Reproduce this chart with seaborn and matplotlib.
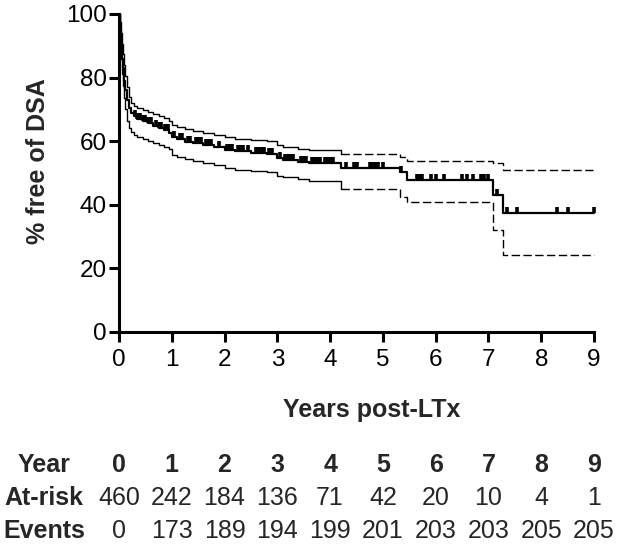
import numpy as np
import pandas as pd
import matplotlib
matplotlib.use("Agg")
import matplotlib.pyplot as plt
import matplotlib.transforms as mtransforms
from matplotlib.path import Path
import seaborn as sns

# ---------------- data ----------------
step_times = [0, 0.02, 0.04, 0.06, 0.08, 0.10, 0.12, 0.15, 0.18, 0.22, 0.28, 0.35,
              0.45, 0.55, 0.65, 0.75, 0.85, 0.95, 1.0, 1.1, 1.25, 1.4, 1.6, 1.8,
              2.0, 2.2, 2.5, 2.8, 3.0, 3.1, 3.4, 3.6, 4.2, 5.33, 5.45, 7.08, 7.27]
survival = [100, 95, 90, 86, 83, 79, 76, 73, 70.5, 68.8, 67.8, 67.0,
            66.3, 65.6, 64.9, 64.3, 63.6, 62.6, 61.4, 60.6, 59.9, 59.3, 58.7, 58.1,
            57.3, 56.8, 56.4, 56.0, 54.8, 54.2, 53.6, 53.3, 51.6, 50.4, 47.8, 43.2, 37.4]
ci_upper = [100, 97.5, 94, 90.5, 87.5, 84, 80.5, 77, 74, 72, 71.2, 70.5,
            69.8, 69.2, 68.6, 68.0, 67.3, 66.5, 65.2, 64.5, 63.9, 63.3, 62.7, 62.1,
            61.3, 60.8, 60.4, 60.0, 58.8, 58.2, 57.6, 57.3, 56.1, 55.1, 53.9, 53.3, 50.8]
ci_lower = [100, 92, 86, 81, 77.5, 73.5, 70, 66.5, 64, 62.8, 62.0, 61.4,
            60.7, 60.0, 59.5, 58.9, 58.2, 57.4, 55.8, 55.1, 54.4, 53.8, 53.2, 52.5,
            51.6, 51.1, 50.7, 50.4, 49.2, 48.6, 48.1, 47.6, 45.1, 42.6, 41.0, 32.2, 24.3]
end_time = 9.0
censor_times = [0.3, 0.35, 0.4, 0.45, 0.5, 0.55, 0.6, 0.7, 0.75, 0.8, 0.88, 0.92,
                1.05, 1.15, 1.2, 1.3, 1.35, 1.45, 1.5, 1.55, 1.65, 1.7, 1.75, 1.9,
                2.05, 2.1, 2.15, 2.25, 2.3, 2.35, 2.45, 2.6, 2.65, 2.7, 2.75, 2.85,
                2.9, 3.05, 3.15, 3.2, 3.25, 3.3, 3.45, 3.5, 3.55, 3.65, 3.7, 3.75,
                3.8, 3.9, 3.95, 4.0, 4.05, 4.3, 4.45, 4.5, 4.75, 4.8, 4.85, 4.9,
                5.0, 5.35, 5.65, 5.7, 5.75, 5.92, 6.0, 6.15, 6.5, 6.6, 6.7,
                6.85, 6.92, 7.0, 7.16, 7.35, 7.55, 8.3, 8.5, 9.0]
dash_start = 4.2

table_years = [0, 1, 2, 3, 4, 5, 6, 7, 8, 9]
at_risk = [460, 242, 184, 136, 71, 42, 20, 10, 4, 1]
events = [0, 173, 189, 194, 199, 201, 203, 203, 205, 205]
row_labels = ["Year", "At-risk", "Events"]
x_ticks = [0, 1, 2, 3, 4, 5, 6, 7, 8, 9]
y_ticks = [0, 20, 40, 60, 80, 100]
x_label = "Years post-LTx"
y_label = "% free of DSA"

# ---------------- style ----------------
sns.set_style("ticks")
plt.rcParams["font.family"] = ["Liberation Sans", "DejaVu Sans"]

W, H = 625, 549
fig = plt.figure(figsize=(W / 100, H / 100), dpi=100)
ax = fig.add_axes([119 / W, 217 / H, 475 / W, 318 / H])

df = pd.DataFrame({
    "t": step_times + [end_time],
    "s": survival + [survival[-1]],
    "hi": ci_upper + [ci_upper[-1]],
    "lo": ci_lower + [ci_lower[-1]],
})
solid = df[df["t"] <= dash_start]
dashed = df[df["t"] >= dash_start]

for col in ["hi", "lo"]:
    sns.lineplot(data=solid, x="t", y=col, drawstyle="steps-post", color="black",
                 lw=1.0, estimator=None, sort=False, ax=ax)
    sns.lineplot(data=dashed, x="t", y=col, drawstyle="steps-post", color="black",
                 lw=1.0, estimator=None, sort=False, ax=ax)
    ax.lines[-1].set_linestyle((0, (6, 2.5)))

sns.lineplot(data=df, x="t", y="s", drawstyle="steps-post", color="black",
             lw=1.6, estimator=None, sort=False, ax=ax)
for ln in ax.lines:
    ln.set_clip_on(False)

# censor ticks pointing upward from the curve
st = np.array(step_times)
sv = np.array(survival)
cidx = np.searchsorted(st, np.array(censor_times), side="right") - 1
cens = pd.DataFrame({"t": censor_times, "s": sv[cidx]})
up_tick = Path([(0, 0), (0, 1)], [Path.MOVETO, Path.LINETO])
ax.plot(cens["t"], cens["s"], ls="none", marker=up_tick, ms=8.5, mew=2.6,
        color="black", clip_on=False, solid_capstyle="butt")

ax.set_xlim(0, 9)
ax.set_ylim(0, 100)
ax.set_xticks(x_ticks)
ax.set_yticks(y_ticks)
ax.set_xlabel("")
ax.set_ylabel("")
sns.despine(ax=ax)
for sp in ["left", "bottom"]:
    ax.spines[sp].set_linewidth(2.2)
    ax.spines[sp].set_color("black")
ax.tick_params(axis="both", length=7, width=2.2, color="black",
               labelsize=17.5, labelcolor="black")
ax.tick_params(axis="y", pad=2)
ax.tick_params(axis="x", pad=5)

fig.text(372 / W, 1 - 417 / H, x_label, ha="center", va="baseline",
         fontsize=18, fontweight="bold")
fig.text(38 / W, 1 - 161 / H, y_label, ha="center", va="center", rotation=90,
         fontsize=18, fontweight="bold")

# ---------------- numbers-at-risk table ----------------
tr = mtransforms.blended_transform_factory(ax.transData, fig.transFigure)
row_base = [1 - 472 / H, 1 - 505 / H, 1 - 538 / H]
for lbl, yb in zip(row_labels, row_base):
    fig.text(44 / W, yb, lbl, ha="center", va="baseline", fontsize=18,
             fontweight="bold")
for i, yr in enumerate(table_years):
    ax.text(yr, row_base[0], str(yr), transform=tr, ha="center", va="baseline",
            fontsize=18, fontweight="bold")
    ax.text(yr, row_base[1], str(at_risk[i]), transform=tr, ha="center",
            va="baseline", fontsize=18)
    ax.text(yr, row_base[2], str(events[i]), transform=tr, ha="center",
            va="baseline", fontsize=18)

fig.savefig("out.png", dpi=100)
